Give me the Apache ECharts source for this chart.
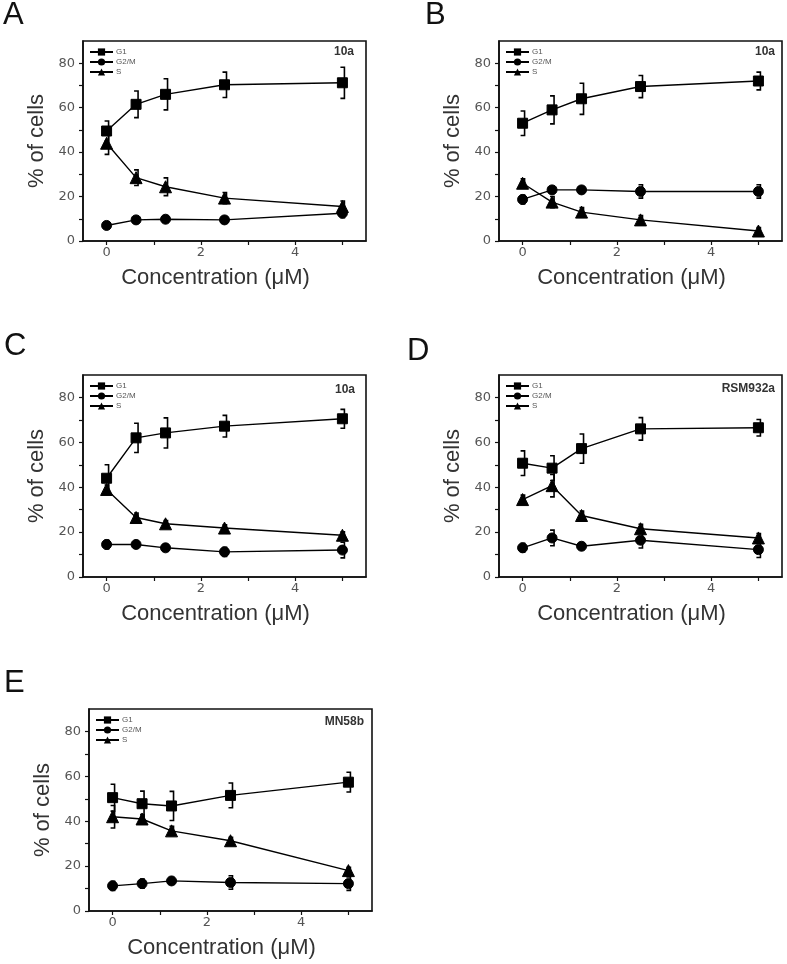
<!DOCTYPE html>
<html>
<head>
<meta charset="utf-8">
<script src="https://cdn.jsdelivr.net/npm/echarts@6/dist/echarts.min.js"></script>
<style>
  html, body { margin: 0; padding: 0; background: #fff; }
  #chart { width: 787px; height: 964px; }
</style>
</head>
<body>
<div id="chart"></div>
<script>
// concentrations (µM)
const conc = [0, 0.625, 1.25, 2.5, 5];

const panels = ['A', 'B', 'C', 'D', 'E'];
const compounds = ['10a', '10a', '10a', 'RSM932a', 'MN58b'];
const phases = ['G1', 'G2/M', 'S'];

// % of cells, one array per panel and phase
const g1A = [49.5, 61.5, 66, 70.3, 71.2];
const g1ErrA = [4.5, 6, 7, 5.7, 7];
const g2mA = [7, 9.5, 9.8, 9.5, 12.5];
const g2mErrA = [1.5, 1.5, 1.5, 1.5, 2];
const sA = [44, 28.5, 24.4, 19.3, 15.5];
const sErrA = [5, 3.5, 4, 2.5, 2.5];

const g1B = [53, 59, 64, 69.5, 72];
const g1ErrB = [5.5, 6.3, 7, 5, 4];
const g2mB = [18.7, 23, 23, 22.3, 22.3];
const g2mErrB = [2, 1.5, 1.5, 3, 3];
const sB = [26, 17.5, 13, 9.5, 4.5];
const sErrB = [2, 2.5, 2, 2, 1.5];

const g1C = [44, 62, 64.2, 67.2, 70.5];
const g1ErrC = [6, 6.5, 6.7, 4.8, 4.2];
const g2mC = [14.5, 14.5, 13, 11.2, 12];
const g2mErrC = [2, 1.5, 1.5, 2, 3.5];
const sC = [39, 26.5, 23.7, 21.8, 18.6];
const sErrC = [2, 2, 1.5, 1.5, 1.5];

const g1D = [50.7, 48.5, 57.2, 66, 66.5];
const g1ErrD = [5.5, 5.5, 6.5, 5, 3.7];
const g2mD = [13, 17.4, 13.7, 16.4, 12.2];
const g2mErrD = [2, 3.5, 1.5, 3.5, 3.5];
const sD = [34.5, 40.7, 27.4, 21.5, 17.4];
const sErrD = [2, 5, 2, 2, 2];

const g1E = [50.5, 47.8, 46.8, 51.5, 57.4];
const g1ErrE = [6, 5.6, 6.5, 5.5, 4.4];
const g2mE = [11.2, 12.2, 13.4, 12.7, 12.2];
const g2mErrE = [2, 2, 1.5, 3, 3];
const sE = [42, 41, 35.7, 31.3, 18];
const sErrE = [5, 2, 2, 1.5, 1.5];

const xTicks = [0, 1, 2, 3, 4, 5];
const xLabels = [0, 2, 4];
const yTicks = [0, 10, 20, 30, 40, 50, 60, 70, 80];
const yLabels = [0, 20, 40, 60, 80];

const values = [
  [[g1A, g1ErrA], [g2mA, g2mErrA], [sA, sErrA]],
  [[g1B, g1ErrB], [g2mB, g2mErrB], [sB, sErrB]],
  [[g1C, g1ErrC], [g2mC, g2mErrC], [sC, sErrC]],
  [[g1D, g1ErrD], [g2mD, g2mErrD], [sD, sErrD]],
  [[g1E, g1ErrE], [g2mE, g2mErrE], [sE, sErrE]]
];

// layout
const grids = [
  {left: 83, top: 41, width: 283, height: 200},
  {left: 499, top: 41, width: 283, height: 200},
  {left: 83, top: 375, width: 283, height: 202},
  {left: 499, top: 375, width: 283, height: 202},
  {left: 89, top: 709, width: 283, height: 202}
];
const letterPos = [[3, 0], [425, 0], [4, 331], [407, 336], [4, 668]];
const tagPos = [[433, 46], [12, 46], [432, 384], [12, 383], [423, 716]];
const symbols = ['rect', 'circle', 'triangle'];
const symbolSizes = [10, 10, 12];

const sansFont = '"Liberation Sans", Arial, sans-serif';
const tickFont = '"DejaVu Sans", sans-serif';

function renderErr(params, api) {
  const x = api.value(0), y = api.value(1), e = api.value(2);
  const c = api.coord([x, y]);
  const top = api.coord([x, y + e]);
  const bot = api.coord([x, y - e]);
  const vx = c[0] + 2;
  const style = {stroke: '#000', fill: null, lineWidth: 1.6};
  return {
    type: 'group',
    children: [
      {type: 'polyline', shape: {points: [[vx - 4, top[1]], [vx, top[1]], [vx, c[1]]]}, style: style},
      {type: 'polyline', shape: {points: [[vx, c[1]], [vx, bot[1]], [vx - 4, bot[1]]]}, style: style}
    ]
  };
}

const option = {
  backgroundColor: '#fff',
  animation: false,
  title: [],
  legend: [],
  grid: [],
  xAxis: [],
  yAxis: [],
  series: []
};

panels.forEach(function (p, i) {
  const g = grids[i];
  option.grid.push(Object.assign({
    show: true, borderColor: '#111', borderWidth: 1.6, backgroundColor: 'transparent'
  }, g));

  option.title.push({
    text: p, left: letterPos[i][0], top: letterPos[i][1], padding: 0,
    textStyle: {fontFamily: sansFont, fontSize: 31, fontWeight: 'normal', color: '#111'}
  });
  option.title.push({
    text: compounds[i], right: tagPos[i][0], top: tagPos[i][1], padding: 0,
    textStyle: {fontFamily: sansFont, fontSize: 12, fontWeight: 'bold', color: '#333'}
  });

  option.legend.push({
    data: phases, orient: 'vertical', left: g.left + 6, top: g.top + 7,
    itemWidth: 23, itemHeight: 9, itemGap: 2, padding: 0, selectedMode: false,
    textStyle: {fontFamily: sansFont, fontSize: 8, color: '#555', padding: [0, 0, 0, -2]}
  });

  option.xAxis.push({
    type: 'value', gridIndex: i, min: -0.5, max: 5.5,
    name: 'Concentration (μM)', nameLocation: 'middle', nameGap: 26,
    nameTextStyle: {fontFamily: sansFont, fontSize: 22, color: '#333', padding: [0, 18, 0, 0]},
    axisLine: {onZero: false, lineStyle: {color: '#111', width: 1.6}},
    axisTick: {show: true, length: 4, inside: false, customValues: xTicks, lineStyle: {color: '#111', width: 1.2}},
    axisLabel: {customValues: xLabels, margin: 5, fontFamily: tickFont, fontSize: 13, color: '#555'},
    splitLine: {show: false}
  });
  option.yAxis.push({
    type: 'value', gridIndex: i, min: 0, max: 90,
    name: '% of cells', nameLocation: 'middle', nameGap: 35,
    nameTextStyle: {fontFamily: sansFont, fontSize: 22, color: '#333'},
    axisLine: {show: true, onZero: false, lineStyle: {color: '#111', width: 1.6}},
    axisTick: {show: true, length: 4, inside: false, customValues: yTicks, lineStyle: {color: '#111', width: 1.2}},
    axisLabel: {customValues: yLabels, margin: 8, fontFamily: tickFont, fontSize: 13, color: '#555'},
    splitLine: {show: false}
  });

  values[i].forEach(function (pair, k) {
    const vals = pair[0], errs = pair[1];
    option.series.push({
      type: 'custom', xAxisIndex: i, yAxisIndex: i, z: 1, silent: true,
      renderItem: renderErr, encode: {x: 0, y: 1},
      data: conc.map(function (c, j) { return [c, vals[j], errs[j]]; })
    });
    option.series.push({
      name: phases[k], type: 'line', xAxisIndex: i, yAxisIndex: i, z: 3,
      symbol: symbols[k], symbolSize: symbolSizes[k], showAllSymbol: true,
      itemStyle: {color: '#000', borderColor: '#000'},
      lineStyle: {color: '#000', width: 1.4},
      data: conc.map(function (c, j) { return [c, vals[j]]; })
    });
  });
});

const myChart = echarts.init(document.getElementById('chart'), null, {renderer: 'canvas'});
myChart.setOption(option);
</script>
</body>
</html>
